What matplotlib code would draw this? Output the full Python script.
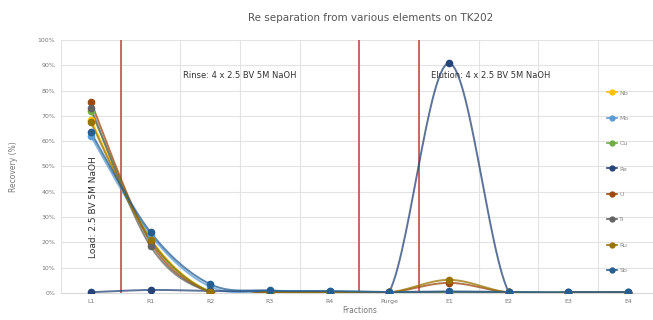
import numpy as np
import matplotlib.pyplot as plt

# Fractions and recovery (%) per element
fractions = ['L1', 'R1', 'R2', 'R3', 'R4', 'Purge', 'E1', 'E2', 'E3', 'E4']
elements = ['Nb', 'Mo', 'Cu', 'Re', 'U', 'Ti', 'Ru', 'Sb']
colors = ['#FFC000', '#5B9BD5', '#70AD47', '#264478', '#9E480E', '#636363', '#997300', '#255E91']

nb = [68.5, 21.5, 0.5, 0.3, 0.3, 0.2, 0.3, 0.2, 0.1, 0.1]
mo = [62.0, 23.0, 2.5, 0.8, 0.6, 0.3, 0.3, 0.2, 0.2, 0.2]
cu = [72.0, 21.0, 0.5, 0.3, 0.3, 0.2, 0.3, 0.2, 0.1, 0.1]
re = [0.3, 1.2, 0.8, 0.6, 0.5, 0.4, 90.8, 0.5, 0.3, 0.3]
u = [75.5, 20.0, 0.3, 0.3, 0.3, 0.2, 4.0, 0.2, 0.1, 0.1]
ti = [73.0, 18.5, 0.3, 0.3, 0.3, 0.2, 0.5, 0.2, 0.1, 0.1]
ru = [67.5, 21.0, 0.3, 0.3, 0.3, 0.2, 5.2, 0.2, 0.1, 0.1]
sb = [63.5, 24.0, 3.5, 1.0, 0.8, 0.4, 0.6, 0.4, 0.3, 0.3]
series = [nb, mo, cu, re, u, ti, ru, sb]


def smooth(x, y, n=30):
    # Excel-like smoothed line (cardinal spline through the points)
    x = np.asarray(x, float)
    y = np.asarray(y, float)
    px = np.concatenate([[x[0]], x, [x[-1]]])
    py = np.concatenate([[y[0]], y, [y[-1]]])
    xs, ys = [], []
    t = np.linspace(0, 1, n)
    for i in range(1, len(px) - 2):
        p0 = np.array([px[i], py[i]])
        p3 = np.array([px[i + 1], py[i + 1]])
        c1 = p0 + (np.array([px[i + 1], py[i + 1]]) - np.array([px[i - 1], py[i - 1]])) / 6
        c2 = p3 - (np.array([px[i + 2], py[i + 2]]) - np.array([px[i], py[i]])) / 6
        b = ((1 - t) ** 3)[:, None] * p0 + (3 * (1 - t) ** 2 * t)[:, None] * c1 \
            + (3 * (1 - t) * t ** 2)[:, None] * c2 + (t ** 3)[:, None] * p3
        xs.extend(b[:, 0])
        ys.extend(b[:, 1])
    return np.array(xs), np.array(ys)


fig = plt.figure(figsize=(6.53, 3.2), dpi=100)
ax = fig.add_axes([0.0934, 0.0844, 0.914, 0.7906])

x = np.arange(len(fractions))
for name, vals, c in zip(elements, series, colors):
    sx, sy = smooth(x, vals)
    ax.plot(sx, sy, color=c, lw=1.4, alpha=0.75, zorder=3)
    ax.plot(x, vals, 'o', color=c, ms=4.5, zorder=4)
    ax.plot([], [], '-o', color=c, lw=1.2, ms=3.5, label=name)

for xv in [0.5, 4.5, 5.5]:
    ax.axvline(xv, color='#C0504D', lw=1.2, zorder=2)

ax.set_xlim(-0.5, 9.5)
ax.set_ylim(0, 100)
ax.set_xticks(x)
ax.set_xticklabels(fractions, fontsize=4.5, color='#777777')
ax.set_yticks(np.arange(0, 101, 10))
ax.set_yticklabels([f'{v}%' for v in range(0, 101, 10)], fontsize=4.5, color='#777777')
ax.set_xticks(np.arange(-0.5, 10, 1), minor=True)
ax.grid(True, which='minor', axis='x', color='#E3E3E3', lw=0.8)
ax.grid(True, which='major', axis='y', color='#E3E3E3', lw=0.8)
ax.tick_params(which='both', length=0, pad=4)
for s in ['top', 'right', 'left']:
    ax.spines[s].set_visible(False)
ax.spines['bottom'].set_color('#D9D9D9')
ax.set_axisbelow(True)

ax.set_xlabel('Fractions', fontsize=5.5, color='#777777', labelpad=2)
ax.set_ylabel('Recovery (%)', fontsize=5.5, color='#777777', labelpad=14)
fig.text(0.567, 0.945, 'Re separation from various elements on TK202', ha='center', va='center',
         fontsize=7.5, color='#555555')

ax.text(0.05, 34, 'Load: 2.5 BV 5M NaOH', rotation=90, ha='center', va='center', fontsize=6.5, color='#333333')
ax.text(1.55, 86, 'Rinse: 4 x 2.5 BV 5M NaOH', ha='left', va='center', fontsize=6, color='#333333')
ax.text(5.7, 86, 'Elution: 4 x 2.5 BV 5M NaOH', ha='left', va='center', fontsize=6, color='#333333')

ax.legend(loc='center left', bbox_to_anchor=(0.905, 0.44), frameon=False, fontsize=4.5,
          labelcolor='#888888', handlelength=1.6, labelspacing=3.2, handletextpad=0.4)

fig.savefig('out.png', dpi=100)
